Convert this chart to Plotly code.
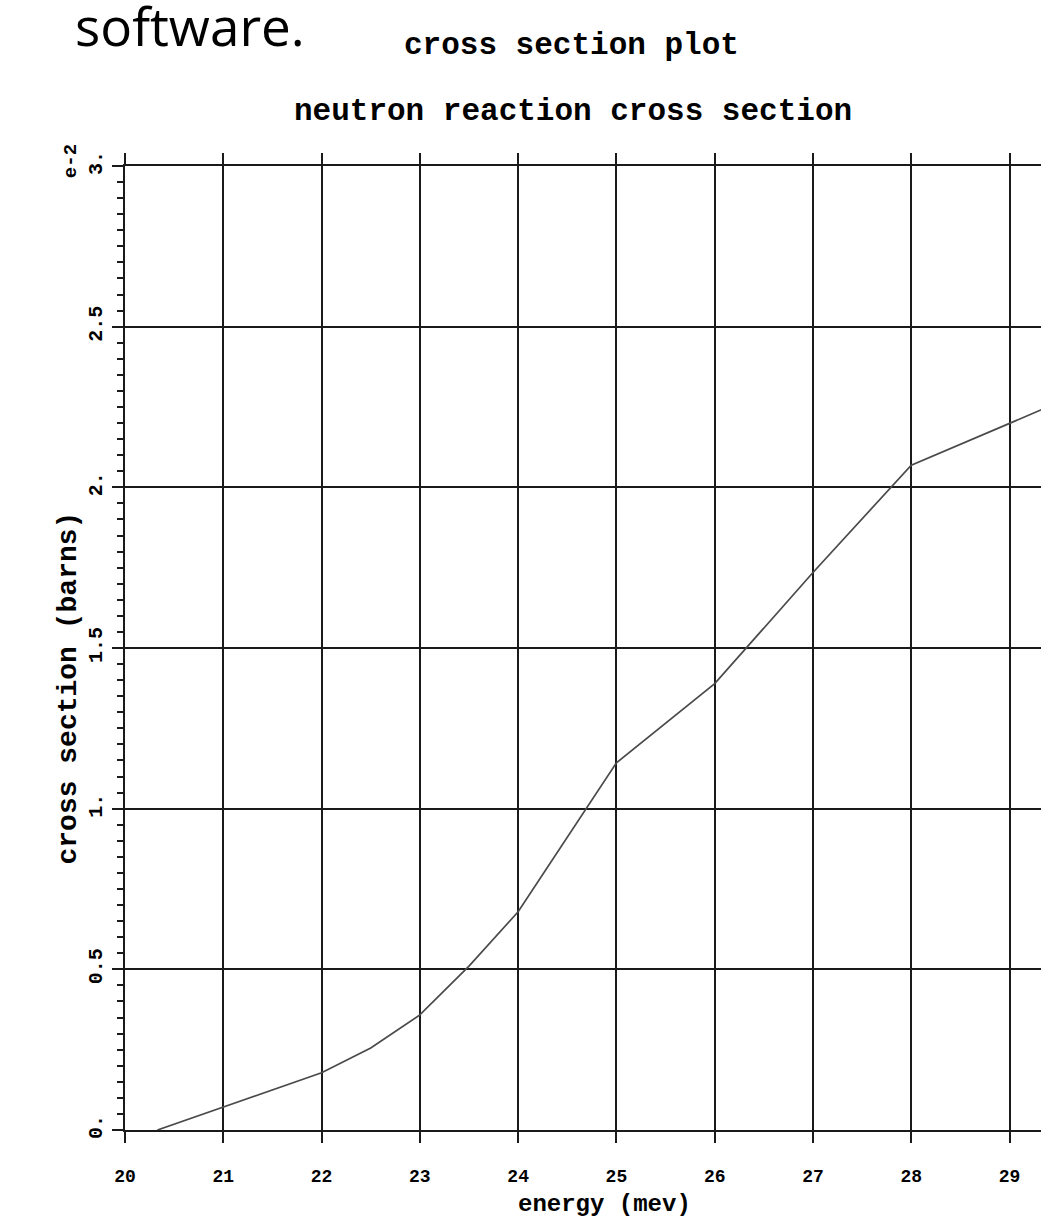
import plotly.graph_objects as go

# ---- data (y in units of 1e-2 barns) ----
energy_mev = [20.33, 21, 22, 22.5, 23, 23.5, 24, 25, 26, 27, 28, 29, 30]
cross_section = [0.0, 0.072, 0.178, 0.255, 0.358, 0.51, 0.679, 1.143, 1.389, 1.735, 2.069, 2.199, 2.33]

x_ticks = [20, 21, 22, 23, 24, 25, 26, 27, 28, 29]
x_tick_text = ["20", "21", "22", "23", "24", "25", "26", "27", "28", "29"]
y_ticks = [0, 0.5, 1.0, 1.5, 2.0, 2.5, 3.0]
y_tick_text = ["0.", "0.5", "1.", "1.5", "2.", "2.5", "3."]

MONO = "Liberation Mono, Courier New, monospace"
GRID = "#1a1a1a"

fig = go.Figure()
fig.add_trace(go.Scatter(
    x=energy_mev, y=cross_section, mode="lines",
    line=dict(color="#4a4a4a", width=1.7), showlegend=False,
))

fig.update_layout(
    width=1041, height=1217,
    margin=dict(l=125, r=0, t=166, b=87, autoexpand=False),
    paper_bgcolor="white", plot_bgcolor="white",
    showlegend=False,
    xaxis=dict(
        range=[20, 29.32], tickvals=x_ticks, ticktext=x_tick_text,
        showgrid=True, gridcolor=GRID, gridwidth=1.7,
        showline=True, linecolor=GRID, linewidth=1.7, mirror="ticks",
        ticks="outside", ticklen=11, tickwidth=1.7, tickcolor=GRID,
        tickfont=dict(family=MONO, size=18, color="black", weight="bold"),
        ticklabelstandoff=18, zeroline=False, automargin=False,
    ),
    yaxis=dict(
        range=[0, 3.0], tickvals=y_ticks, ticktext=y_tick_text,
        tickangle=-90,
        showgrid=True, gridcolor=GRID, gridwidth=1.7,
        showline=True, linecolor=GRID, linewidth=1.7, mirror=False,
        ticks="outside", ticklen=11, tickwidth=1.7, tickcolor=GRID,
        tickfont=dict(family=MONO, size=20, color="black", weight="bold"),
        ticklabelstandoff=2, zeroline=False, automargin=False,
        minor=dict(ticks="outside", ticklen=6, tickwidth=1.6, tickcolor=GRID,
                   dtick=0.05, tick0=0, showgrid=False),
    ),
    annotations=[
        dict(text="software.", xref="paper", yref="paper", x=-0.0565, y=1.146,
             xanchor="left", yanchor="middle", showarrow=False,
             font=dict(family="Open Sans, Liberation Sans, sans-serif", size=53, color="black")),
        dict(text="cross section plot", xref="paper", yref="paper", x=0.487, y=1.1255,
             xanchor="center", yanchor="middle", showarrow=False,
             font=dict(family=MONO, size=31, color="black", weight="bold")),
        dict(text="neutron reaction cross section", xref="paper", yref="paper", x=0.489, y=1.057,
             xanchor="center", yanchor="middle", showarrow=False,
             font=dict(family=MONO, size=31, color="black", weight="bold")),
        dict(text="cross section (barns)", xref="paper", yref="paper", x=-0.0622, y=0.458,
             xanchor="center", yanchor="middle", textangle=-90, showarrow=False,
             font=dict(family=MONO, size=28, color="black", weight="bold")),
        dict(text="energy (mev)", xref="paper", yref="paper", x=0.524, y=-0.077,
             xanchor="center", yanchor="middle", showarrow=False,
             font=dict(family=MONO, size=24, color="black", weight="bold")),
        dict(text="e-2", xref="paper", yref="paper", x=-0.059, y=1.005,
             xanchor="center", yanchor="middle", textangle=-90, showarrow=False,
             font=dict(family=MONO, size=19, color="black", weight="bold")),
    ],
)

fig.write_html(
    "out.html",
    config={"responsive": False, "displayModeBar": False},
    post_script="document.body.style.margin='0';document.body.style.overflow='hidden';",
)
